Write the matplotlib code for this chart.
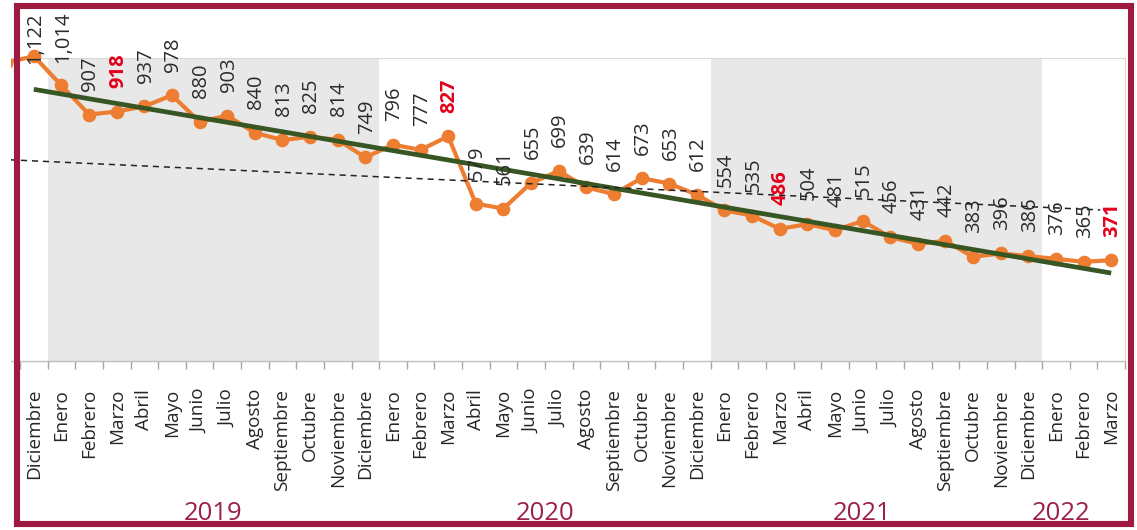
import numpy as np
import matplotlib
matplotlib.use("Agg")
import matplotlib.pyplot as plt
from matplotlib.patches import Rectangle
from matplotlib.transforms import blended_transform_factory

plt.rcParams['font.family'] = ['Open Sans', 'DejaVu Sans']

# ---------------- data ----------------
meses = ['Enero', 'Febrero', 'Marzo', 'Abril', 'Mayo', 'Junio', 'Julio',
         'Agosto', 'Septiembre', 'Octubre', 'Noviembre', 'Diciembre']
# first two categories: Noviembre 2018 (cut off at the left edge) and Diciembre 2018
categorias = ['Noviembre', 'Diciembre'] + meses + meses + meses + meses[:3]
valores = [1097, 1122, 1014, 907, 918, 937, 978, 880, 903, 840, 813, 825, 814, 749,
           796, 777, 827, 579, 561, 655, 699, 639, 614, 673, 653, 612,
           554, 535, 486, 504, 481, 515, 456, 431, 442, 383, 396, 386,
           376, 365, 371]
destacados = ['Marzo']            # labels highlighted in red
tendencia_larga = [741, 554]      # dashed long-term trend: Noviembre 2018 -> Marzo 2022
anios = ['2019', '2020', '2021', '2022']
anio_pos = [6.5, 18.5, 30.0, 37.2]
bandas = [(0.5, 12.5), (24.5, 36.5)]

# ---------------- figure ----------------
W, H = 1137, 530
fig = plt.figure(figsize=(W / 100, H / 100), dpi=100)
ax = fig.add_axes([0, (H - 361) / H, 1125 / W, (361 - 58) / H])

x = np.arange(-1, len(valores) - 1)   # Diciembre 2018 -> 0
v = np.array(valores, dtype=float)
shown = x >= 0

ax.set_xlim(-0.5 - 20 / 27.625, len(valores) - 1.5)
ax.set_ylim(0, 1115)

for a, b in bandas:
    ax.axvspan(a, b, color='#e8e8e8', lw=0, zorder=0)

# data line
ax.plot(x, v, color='#ed7d31', lw=3.0, marker='o', ms=8.8, zorder=3, clip_on=False)

# linear trend of the shown period (Dic 2018 - Mar 2022)
coef = np.polyfit(x[shown], v[shown], 1)
ax.plot(x[shown], np.polyval(coef, x[shown]), color='#375623', lw=3.4, zorder=4,
        solid_capstyle='butt')

# dashed long-term trend
slope = (tendencia_larga[1] - tendencia_larga[0]) / (x[-1] - x[0])
xd = np.array([-1.4, x[-1] - 0.4])
ax.plot(xd, tendencia_larga[0] + slope * (xd - x[0]), color='#222222', lw=1.1,
        ls=(0, (4, 3.2)), zorder=6)

# data labels
texts = []
for xi, vi, cat in zip(x[shown], v[shown], np.array(categorias)[shown]):
    red = cat in destacados
    t = ax.annotate(f"{int(vi):,}", (xi, vi), xytext=(1, 17), textcoords='offset points',
                    rotation=90, ha='center', va='bottom', fontsize=14.5,
                    color='#e3001b' if red else '#2b2b2b',
                    fontweight='bold' if red else 'normal', zorder=5,
                    annotation_clip=False)
    texts.append(t)

# axes styling
ax.spines['left'].set_visible(False)
for s in ['top', 'right']:
    ax.spines[s].set_color('#d9d9d9')
    ax.spines[s].set_linewidth(0.8)
ax.spines['bottom'].set_color('#bfbfbf')
ax.spines['bottom'].set_linewidth(1.0)
ax.set_yticks([])
ax.set_xticks(x[shown])
ax.set_xticklabels(np.array(categorias)[shown], rotation=90, fontsize=13.6, color='#262626')
ax.tick_params(axis='x', which='major', length=0, pad=20)
minor = np.arange(-0.5, len(valores) - 1, 1.0)
ax.set_xticks(minor, minor=True)
ax.tick_params(axis='x', which='minor', length=6, color='#a6a6a6', width=1.0)

# year labels
tr = blended_transform_factory(ax.transData, fig.transFigure)
for yr, p in zip(anios, anio_pos):
    fig.text(p, (H - 513) / H, yr, transform=tr, ha='center', va='center',
             fontsize=18.5, color='#9b2247')

# keep labels inside the top of the picture
fig.canvas.draw()
r = fig.canvas.get_renderer()
top_limit = H - 12
for t in texts:
    bb = t.get_window_extent(r)
    if bb.y1 > top_limit:
        dx, dy = t.xyann
        t.xyann = (dx, dy - (bb.y1 - top_limit) * 72 / fig.dpi)

# picture is cropped at the left: blank strip, then the crimson frame
fig.patches.append(Rectangle((0, 0), 11 / W, 1, transform=fig.transFigure,
                             fc='white', ec='none', zorder=19))
fig.patches.append(Rectangle((17 / W, (H - 524) / H), (1131 - 17) / W, (524 - 6) / H,
                             transform=fig.transFigure, fill=False, ec='#9e1a40',
                             lw=4.4, zorder=20))

fig.savefig('out.png', dpi=100)
